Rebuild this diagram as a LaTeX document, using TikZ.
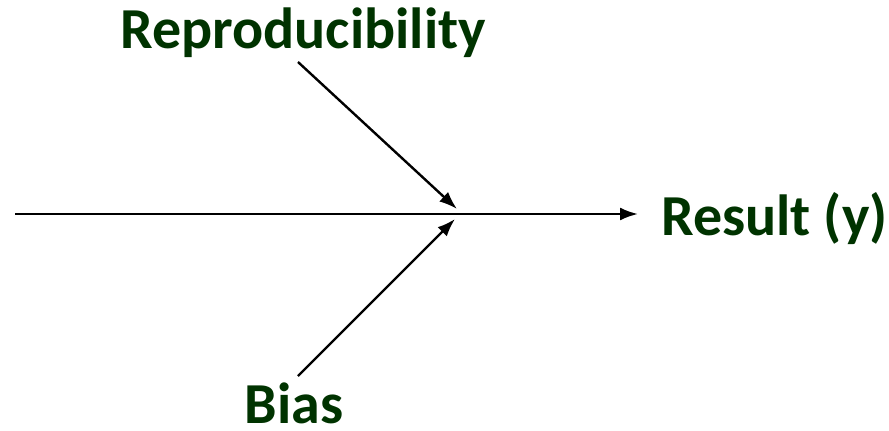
\documentclass[tikz,border=0pt]{standalone}
\usepackage{fontspec}
\setmainfont{Carlito}
\usetikzlibrary{arrows.meta}
\definecolor{lbl}{RGB}{0,51,0}
\begin{document}
\begin{tikzpicture}[x=1pt,y=-1pt,
  lab/.style={text=lbl,font=\fontsize{58}{60}\selectfont\bfseries,inner sep=0pt},
  arr/.style={line width=2.4pt,-{Latex[length=18pt,width=13pt]}}]
\useasboundingbox (0,0) rectangle (889,431);
\node[lab,anchor=base] (rep) at (303,48) {Reproducibility};
\node[lab,anchor=base west] (res) at (661,235) {Result (y)};
\node[lab,anchor=base] (bias) at (294,423) {Bias};
\coordinate (s) at (15,214);
\coordinate (e) at (638,214);
\coordinate (a1) at (298,62);
\coordinate (t1) at (457,209);
\coordinate (a2) at (298,376);
\coordinate (t2) at (455,219);
\draw[arr] (s) -- (e);
\draw[arr] (a1) -- (t1);
\draw[arr] (a2) -- (t2);
\end{tikzpicture}
\end{document}
